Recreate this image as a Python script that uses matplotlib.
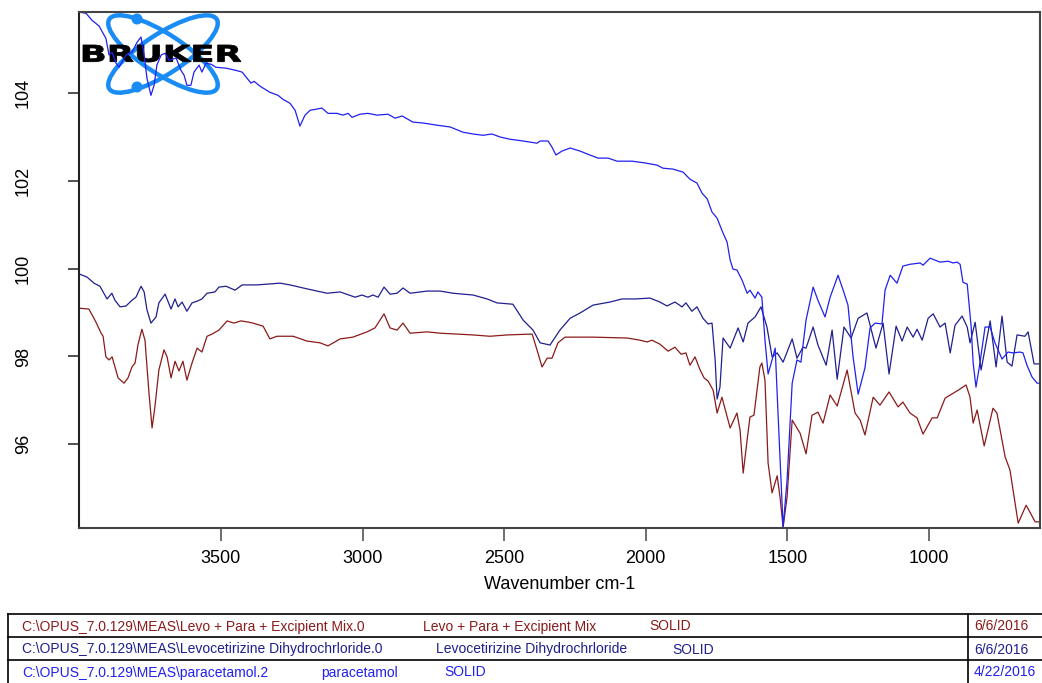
import numpy as np
import matplotlib
matplotlib.use('Agg')
from matplotlib import pyplot as plt
from matplotlib.patches import Ellipse, Circle, PathPatch
from matplotlib.textpath import TextPath
from matplotlib.font_manager import FontProperties
from matplotlib.transforms import Affine2D

plt.rcParams['font.family'] = ['Liberation Sans', 'DejaVu Sans']

# Levo + Para + Excipient Mix (dark red)
mix_wn = [4001, 3966, 3941, 3923, 3916, 3906, 3895, 3884, 3874, 3863, 3842, 3828, 3814, 3803,
          3793, 3779, 3768, 3754, 3743, 3733, 3719, 3701, 3690, 3676, 3662, 3648, 3634, 3620,
          3602, 3584, 3567, 3549, 3531, 3507, 3478, 3454, 3429, 3401, 3387, 3351, 3327, 3302,
          3245, 3196, 3150, 3122, 3079, 3034, 2984, 2956, 2924, 2903, 2878, 2857, 2832, 2772,
          2726, 2610, 2550, 2490, 2401, 2384, 2366, 2348, 2331, 2310, 2285, 2186, 2066, 2020,
          1995, 1978, 1950, 1921, 1897, 1875, 1858, 1844, 1826, 1808, 1794, 1780, 1762, 1748,
          1731, 1702, 1678, 1667, 1656, 1642, 1632, 1618, 1597, 1590, 1579, 1568, 1554, 1536,
          1526, 1515, 1501, 1483, 1455, 1434, 1413, 1392, 1374, 1349, 1324, 1289, 1261, 1243,
          1226, 1197, 1173, 1141, 1109, 1092, 1067, 1042, 1021, 989, 971, 943, 897, 869, 855,
          844, 830, 805, 774, 760, 731, 714, 685, 657, 625, 604]
mix_t = [99.10, 99.08, 98.78, 98.53, 98.46, 97.99, 97.92, 97.99, 97.76, 97.51, 97.39, 97.51,
         97.76, 97.85, 98.26, 98.62, 98.37, 97.17, 96.37, 96.85, 97.69, 98.15, 97.99, 97.51,
         97.89, 97.67, 97.89, 97.46, 97.85, 98.19, 98.10, 98.46, 98.51, 98.60, 98.81, 98.76,
         98.81, 98.78, 98.76, 98.69, 98.40, 98.46, 98.46, 98.35, 98.31, 98.24, 98.40, 98.44,
         98.56, 98.65, 98.97, 98.65, 98.60, 98.76, 98.53, 98.56, 98.53, 98.49, 98.46, 98.49,
         98.51, 98.15, 97.76, 97.96, 97.96, 98.31, 98.44, 98.44, 98.42, 98.37, 98.33, 98.37,
         98.28, 98.12, 98.21, 98.05, 98.08, 97.80, 97.99, 97.69, 97.51, 97.44, 97.23, 96.71,
         97.07, 96.37, 96.71, 96.32, 95.34, 96.10, 96.62, 96.66, 97.76, 97.85, 97.46, 95.57,
         94.89, 95.28, 94.80, 94.11, 94.80, 96.55, 96.25, 95.78, 96.66, 96.73, 96.48, 97.12,
         96.87, 97.69, 96.71, 96.55, 96.21, 97.07, 96.89, 97.19, 96.85, 96.96, 96.71, 96.60,
         96.23, 96.60, 96.60, 97.05, 97.23, 97.35, 97.07, 96.48, 96.78, 95.96, 96.82, 96.71,
         95.71, 95.41, 94.20, 94.61, 94.23, 94.23]

# Levocetirizine Dihydrochrloride (navy)
levo_wn = [4001, 3973, 3948, 3927, 3902, 3885, 3874, 3856, 3835, 3814, 3800, 3782, 3771, 3761,
           3747, 3729, 3719, 3697, 3676, 3662, 3651, 3637, 3620, 3602, 3584, 3567, 3549, 3521,
           3507, 3482, 3450, 3425, 3373, 3291, 3256, 3196, 3125, 3079, 3026, 3002, 2981, 2963,
           2945, 2924, 2903, 2878, 2857, 2832, 2772, 2726, 2680, 2610, 2560, 2525, 2469, 2433,
           2398, 2373, 2338, 2303, 2267, 2232, 2186, 2126, 2084, 2038, 1985, 1950, 1925, 1897,
           1872, 1858, 1837, 1819, 1798, 1780, 1766, 1755, 1748, 1738, 1727, 1702, 1674, 1656,
           1639, 1614, 1593, 1572, 1554, 1536, 1515, 1483, 1466, 1445, 1434, 1409, 1392, 1363,
           1342, 1324, 1300, 1275, 1250, 1219, 1187, 1162, 1141, 1116, 1095, 1077, 1056, 1042,
           1024, 1003, 985, 961, 943, 925, 908, 883, 865, 855, 837, 816, 784, 763, 742, 724,
           707, 689, 661, 650, 629, 604]
levo_t = [99.88, 99.81, 99.67, 99.60, 99.31, 99.44, 99.28, 99.13, 99.15, 99.28, 99.35, 99.60,
          99.47, 99.06, 98.76, 98.90, 99.22, 99.42, 99.08, 99.31, 99.13, 99.24, 99.03, 99.22,
          99.26, 99.31, 99.44, 99.47, 99.58, 99.60, 99.51, 99.63, 99.63, 99.67, 99.63, 99.54,
          99.44, 99.47, 99.35, 99.40, 99.35, 99.40, 99.35, 99.58, 99.42, 99.44, 99.56, 99.44,
          99.49, 99.49, 99.44, 99.40, 99.31, 99.22, 99.19, 98.83, 98.60, 98.31, 98.26, 98.60,
          98.87, 98.99, 99.17, 99.24, 99.31, 99.31, 99.33, 99.24, 99.15, 99.24, 99.13, 99.22,
          99.03, 99.13, 98.87, 98.74, 98.76, 97.92, 97.03, 97.30, 98.42, 98.19, 98.65, 98.33,
          98.76, 98.90, 99.13, 98.67, 97.99, 98.08, 97.87, 98.40, 97.96, 98.21, 98.19, 98.67,
          98.26, 97.80, 98.60, 97.48, 98.67, 98.42, 98.87, 98.99, 98.19, 98.76, 97.60, 98.69,
          98.35, 98.67, 98.44, 98.62, 98.37, 98.87, 98.97, 98.67, 98.76, 98.08, 98.71, 98.92,
          98.67, 98.31, 98.78, 97.69, 98.81, 97.76, 98.92, 97.87, 97.78, 98.49, 98.46, 98.56,
          97.83, 97.83]

# paracetamol (blue)
para_wn = [4001, 3976, 3955, 3930, 3920, 3906, 3895, 3884, 3870, 3860, 3849, 3835, 3814, 3796,
           3782, 3771, 3761, 3747, 3736, 3726, 3711, 3697, 3683, 3658, 3641, 3630, 3620, 3606,
           3595, 3577, 3567, 3553, 3535, 3517, 3482, 3447, 3425, 3394, 3383, 3362, 3327, 3298,
           3281, 3256, 3238, 3221, 3203, 3185, 3143, 3122, 3090, 3069, 3051, 3037, 3009, 2981,
           2949, 2910, 2885, 2860, 2822, 2786, 2737, 2691, 2645, 2610, 2574, 2543, 2514, 2479,
           2433, 2384, 2373, 2345, 2331, 2317, 2296, 2267, 2232, 2197, 2168, 2133, 2101, 2048,
           2003, 1960, 1939, 1904, 1868, 1844, 1819, 1801, 1783, 1766, 1748, 1727, 1713, 1702,
           1692, 1678, 1660, 1642, 1632, 1614, 1604, 1590, 1579, 1568, 1551, 1543, 1533, 1515,
           1501, 1483, 1466, 1452, 1434, 1409, 1392, 1367, 1349, 1321, 1303, 1286, 1268, 1250,
           1226, 1208, 1190, 1166, 1155, 1137, 1113, 1092, 1067, 1031, 1021, 996, 961, 932, 915,
           901, 890, 880, 865, 851, 844, 834, 820, 802, 784, 767, 742, 721, 703, 679, 668, 654,
           636, 618, 604]
para_t = [105.85, 105.82, 105.66, 105.53, 105.41, 105.25, 104.87, 104.93, 104.68, 104.59,
          104.71, 104.87, 104.93, 105.16, 105.28, 104.87, 104.34, 103.95, 104.18, 104.64,
          104.87, 104.91, 104.75, 104.80, 104.52, 104.41, 104.18, 104.18, 104.48, 104.64,
          104.48, 104.68, 104.66, 104.59, 104.57, 104.52, 104.48, 104.23, 104.27, 104.16,
          104.02, 103.95, 103.86, 103.77, 103.61, 103.25, 103.50, 103.61, 103.66, 103.54,
          103.54, 103.50, 103.54, 103.45, 103.52, 103.54, 103.50, 103.52, 103.43, 103.48,
          103.34, 103.32, 103.27, 103.23, 103.11, 103.07, 103.04, 103.07, 103.00, 102.95,
          102.91, 102.86, 102.91, 102.91, 102.77, 102.59, 102.68, 102.75, 102.68, 102.59,
          102.52, 102.52, 102.45, 102.45, 102.41, 102.36, 102.29, 102.27, 102.20, 102.04,
          101.95, 101.72, 101.59, 101.29, 101.15, 100.81, 100.61, 100.20, 99.99, 99.97,
          99.74, 99.44, 99.51, 99.33, 99.47, 99.35, 98.37, 97.60, 97.99, 98.19, 96.71, 94.11,
          95.18, 97.39, 97.92, 97.87, 98.83, 99.58, 99.28, 98.90, 99.35, 99.85, 99.51, 99.17,
          97.99, 97.14, 97.74, 98.65, 98.76, 98.74, 99.51, 99.85, 99.67, 100.06, 100.10,
          100.13, 100.08, 100.24, 100.15, 100.17, 100.13, 100.15, 100.10, 99.69, 99.65, 98.67,
          97.85, 97.30, 97.85, 98.67, 98.67, 98.31, 97.94, 98.10, 98.08, 98.10, 98.08, 97.80,
          97.53, 97.39, 97.39]

x_ticks = [3500, 3000, 2500, 2000, 1500, 1000]
y_ticks = [96, 98, 100, 102, 104]

mix_color = '#8b1a1a'
levo_color = '#1f1f8f'
para_color = '#2020f0'

paths = ['C:\\OPUS_7.0.129\\MEAS\\Levo + Para + Excipient Mix.0',
         'C:\\OPUS_7.0.129\\MEAS\\Levocetirizine Dihydrochrloride.0',
         'C:\\OPUS_7.0.129\\MEAS\\paracetamol.2']
names = ['Levo + Para + Excipient Mix', 'Levocetirizine Dihydrochrloride', 'paracetamol']
states = ['SOLID', 'SOLID', 'SOLID']
dates = ['6/6/2016', '6/6/2016', '4/22/2016']
row_colors = [mix_color, levo_color, para_color]

W, H = 1042, 683
fig = plt.figure(figsize=(W / 100, H / 100), dpi=100)

# background layer in pixel units: logo + info table
bg = fig.add_axes([0, 0, 1, 1], zorder=0)
bg.set_xlim(0, W)
bg.set_ylim(H, 0)
bg.axis('off')

ax = fig.add_axes([79 / W, 1 - 528 / H, 961 / W, 516 / H], zorder=1)
ax.set_facecolor('none')

ax.plot(mix_wn, mix_t, color=mix_color, lw=0.9)
ax.plot(levo_wn, levo_t, color=levo_color, lw=0.9)
ax.plot(para_wn, para_t, color=para_color, lw=0.9)

ax.set_xlim(4001, 608)
ax.set_ylim(94.09, 105.85)
ax.set_xticks(x_ticks)
ax.set_yticks(y_ticks)
ax.tick_params(axis='x', direction='out', length=9, width=1.2, color='#555555',
               labelsize=13, pad=7)
ax.tick_params(axis='y', direction='out', length=8, width=1.2, color='#333333',
               labelsize=13, pad=26, labelrotation=90)
for lab in ax.get_yticklabels():
    lab.set_va('center')
ax.set_xlabel('Wavenumber cm-1', fontsize=13, labelpad=6)
for s in ax.spines.values():
    s.set_color('#444444')
    s.set_linewidth(1.5)
ax.spines['left'].set_color('#222222')

# Bruker logo
logo_blue = '#1a8cf5'
for ang in (33, -33):
    bg.add_patch(Ellipse((163, 54), 128, 40, angle=ang, fill=False,
                         edgecolor=logo_blue, lw=3.2))
bg.add_patch(Circle((137, 19), 4.8, color=logo_blue))
bg.add_patch(Circle((137, 87), 4.8, color=logo_blue))
tp = TextPath((0, 0), 'BRUKER', size=1,
              prop=FontProperties(family='DejaVu Sans', weight='heavy'))
bb = tp.get_extents()
tr = (Affine2D().translate(-bb.x0, -bb.y0)
      .scale(158 / bb.width, -17 / bb.height).translate(83, 62))
bg.add_patch(PathPatch(tr.transform_path(tp), facecolor='black', edgecolor='black', lw=0.6))

# info table
row_y = [614, 637, 660, 683]
for yy in row_y[:-1]:
    bg.plot([8, W], [yy, yy], color='black', lw=1.2)
bg.plot([8, 8], [row_y[0], row_y[-1]], color='black', lw=1.2)
bg.plot([968, 968], [row_y[0], row_y[-1]], color='black', lw=1.2)
name_x = [423, 436, 321]
state_x = [649, 672, 444]
for i in range(3):
    yc = (row_y[i] + row_y[i + 1]) / 2 + 1
    c = row_colors[i]
    bg.text(22, yc, paths[i], color=c, fontsize=10, va='center', ha='left')
    bg.text(name_x[i], yc, names[i], color=c, fontsize=10, va='center', ha='left')
    bg.text(state_x[i], yc, states[i], color=c, fontsize=10, va='center', ha='left')
    bg.text(974, yc, dates[i], color=c, fontsize=10, va='center', ha='left')

fig.savefig('out.png', dpi=100)
